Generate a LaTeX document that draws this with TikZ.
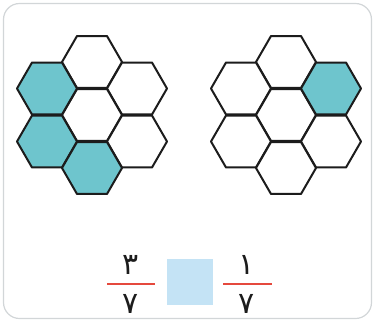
\documentclass[tikz,border=0pt]{standalone}
\usepackage{fontspec}
\newfontfamily\arabicfont[Script=Arabic]{DejaVu Sans}
\usetikzlibrary{shapes.geometric}
\definecolor{hexfill}{HTML}{6EC5CD}
\definecolor{hexline}{HTML}{1C1C1C}
\definecolor{framecol}{HTML}{D2D6D8}
\definecolor{barred}{HTML}{E5493D}
\definecolor{boxblue}{HTML}{C4E3F5}
\tikzset{
  hexcell/.style={regular polygon, regular polygon sides=6, minimum size=60pt, inner sep=0pt, draw=hexline, line width=2pt, fill=white, line join=round},
  hexon/.style={hexcell, fill=hexfill},
  digit/.style={font=\arabicfont\fontsize{30}{32}\selectfont, text=hexline, inner sep=0pt},
  fracbar/.style={draw=barred, line width=1.8pt},
}
\begin{document}
\begin{tikzpicture}[x=1pt,y=-1pt]
\useasboundingbox (0,0) rectangle (375,322);
\draw[framecol, line width=1.2pt, fill=white, rounded corners=16pt] (3.5,3.5) rectangle (371.5,318.5);
% left cluster
\node[hexcell] (LT) at (92,62) {};
\node[hexcell] (LUR) at (137,88.5) {};
\node[hexcell] (LC) at (92,115) {};
\node[hexcell] (LLR) at (137,141.5) {};
\node[hexon] (LUL) at (47,88.5) {};
\node[hexon] (LLL) at (47,141.5) {};
\node[hexon] (LB) at (92,168) {};
% right cluster
\node[hexcell] (RT) at (286,62) {};
\node[hexcell] (RUL) at (241,88.5) {};
\node[hexcell] (RC) at (286,115) {};
\node[hexcell] (RLL) at (241,141.5) {};
\node[hexcell] (RLR) at (331,141.5) {};
\node[hexcell] (RB) at (286,168) {};
\node[hexon] (RUR) at (331,88.5) {};
% fractions
\coordinate (b1a) at (107,284);
\coordinate (b1b) at (155,284);
\draw[fracbar] (b1a) -- (b1b);
\node[digit] (n1) at (131,265) {۳};
\node[digit] (d1) at (131,304) {۷};
\node[fill=boxblue, minimum width=46pt, minimum height=46pt, inner sep=0pt] (box) at (190,282) {};
\coordinate (b2a) at (223,284);
\coordinate (b2b) at (272,284);
\draw[fracbar] (b2a) -- (b2b);
\node[digit] (n2) at (247,265) {۱};
\node[digit] (d2) at (247,304) {۷};
\end{tikzpicture}
\end{document}
